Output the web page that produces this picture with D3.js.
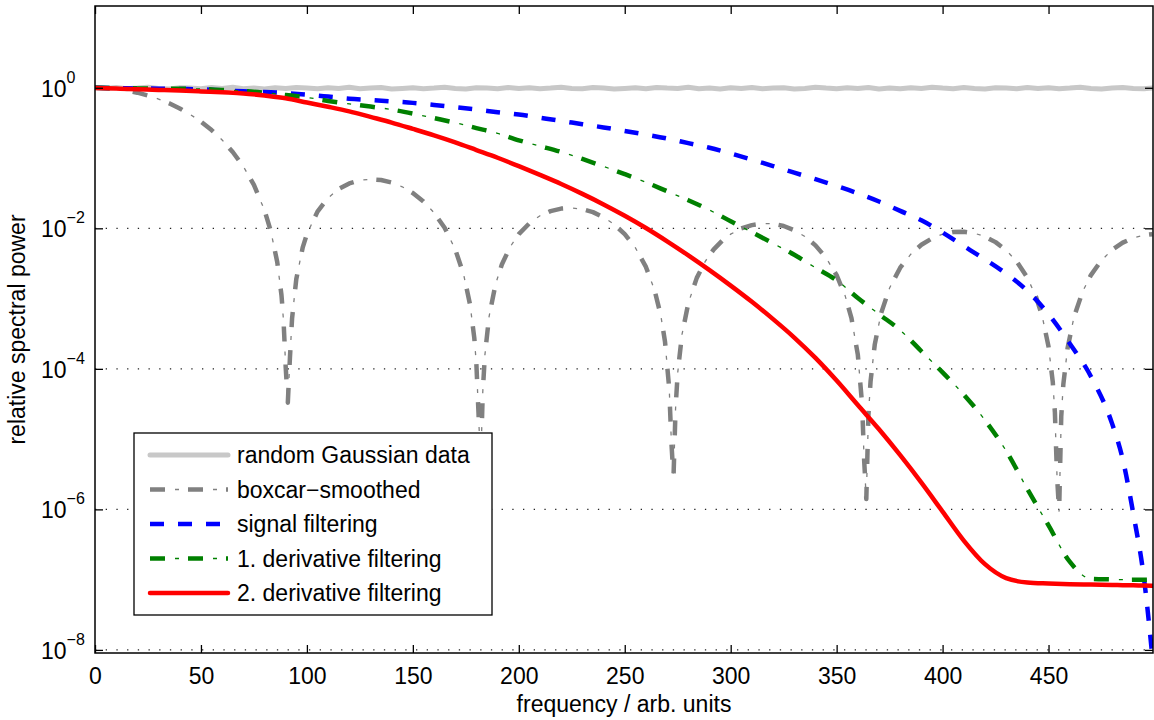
<!DOCTYPE html>
<html>
<head>
<meta charset="utf-8">
<script src="https://cdn.jsdelivr.net/npm/d3@7"></script>
<style>
  html, body { margin: 0; padding: 0; background: #fff; }
  svg text { font-family: "Liberation Sans", Arial, Helvetica, sans-serif; fill: #000; }
</style>
</head>
<body>
<svg id="chart" width="1154" height="720"></svg>
<script>
// Frequency grid shared by the three filter curves
const gridFreq = [0,10,20,30,40,50,60,70,80,90,100,110,120,130,140,150,160,170,180,190,
  200,210,220,230,240,250,260,270,280,290,300,310,320,330,340,350,360,370,380,390,
  400,410,420,430,440,450,460,470,480,485,490,495,499];

const signalPower = [1.00,0.99,0.98,0.97,0.96,0.95,0.92,0.89,0.87,0.84,0.80,0.75,0.70,0.67,0.64,0.61,0.57,0.53,0.49,0.45,
  0.416,0.375,0.338,0.303,0.273,0.243,0.216,0.190,0.163,0.140,0.116,0.095,0.077,0.062,0.050,0.040,0.0315,0.0241,0.0177,0.0130,
  0.0087,0.0056,0.0036,0.00226,0.00129,6.0e-4,2.3e-4,7.8e-5,1.66e-5,5.2e-6,8.7e-7,1.07e-7,8e-9];

const deriv1Power = [1.00,0.99,0.98,0.97,0.97,0.96,0.93,0.90,0.85,0.79,0.73,0.65,0.59,0.54,0.49,0.43,0.37,0.318,0.267,0.225,
  0.179,0.148,0.122,0.097,0.076,0.059,0.0452,0.0337,0.0251,0.0182,0.0126,0.0088,0.0061,0.0042,0.00275,0.00182,1.02e-3,6.0e-4,3.55e-4,1.78e-4,
  8.9e-5,4.3e-5,1.86e-5,6.8e-6,1.95e-6,5.9e-7,1.8e-7,1.03e-7,1.01e-7,1.0e-7,1.0e-7,1.0e-7,1.0e-7];

const deriv2Power = [0.99,0.973,0.955,0.933,0.912,0.887,0.861,0.832,0.776,0.711,0.617,0.537,0.462,0.385,0.320,0.260,0.210,0.167,0.130,0.101,
  0.0767,0.0575,0.0427,0.0309,0.0219,0.0151,0.0101,0.00653,0.00412,0.00254,0.00153,9.0e-4,5.1e-4,2.79e-4,1.43e-4,6.8e-5,3.05e-5,1.38e-5,5.9e-6,2.4e-6,
  9.3e-7,3.6e-7,1.66e-7,1.05e-7,9.1e-8,8.8e-8,8.6e-8,8.5e-8,8.4e-8,8.35e-8,8.3e-8,8.25e-8,8.2e-8];

// Boxcar-smoothed spectrum, denser sampling around the nulls
const boxcarFreq = [0,5,10,15,20,25,30,35,40,45,50,55,60,65,70,75,80,83,86,88,89,90,91,92,93,95,98,
  100,105,110,115,120,125,130,135,140,145,150,155,160,165,170,174,177,179,180,181,182,183,184,186,189,192,196,
  200,205,210,215,220,225,230,235,240,245,250,255,260,264,267,269,271,272,273,274,275,277,280,284,288,292,296,
  300,305,310,315,320,325,330,335,340,345,350,354,357,360,362,363,364,365,366,368,371,375,380,385,390,395,
  400,405,410,415,420,425,430,435,440,444,447,450,452,453,454,455,456,457,459,462,466,470,475,480,485,490,495,499];
const boxcarPower = [1,0.990,0.961,0.915,0.852,0.776,0.691,0.601,0.508,0.416,0.330,0.250,0.181,0.122,0.0760,0.0414,0.0181,0.00906,0.00331,0.00112,4.7e-4,1.05e-4,3.3e-5,1.45e-4,5.2e-4,1.90e-3,5.30e-3,
  8.26e-3,0.0173,0.0271,0.0362,0.0435,0.0482,0.0499,0.0487,0.0449,0.0390,0.0318,0.0241,0.0167,0.0102,5.03e-3,2.18e-3,8.2e-4,2.75e-4,1.14e-4,2.3e-5,4e-6,4.7e-5,1.57e-4,5.6e-4,1.59e-3,3.05e-3,5.49e-3,
  8.26e-3,0.0118,0.0151,0.0176,0.0191,0.0195,0.0187,0.0170,0.0144,0.0114,8.26e-3,5.30e-3,2.82e-3,1.34e-3,5.8e-4,2.44e-4,5.2e-5,9.2e-6,2.8e-6,2.8e-5,8.8e-5,3.06e-4,8.6e-4,1.97e-3,3.39e-3,5.01e-3,6.68e-3,
  8.26e-3,9.96e-3,0.0111,0.0117,0.0116,0.0108,9.4e-3,7.65e-3,5.72e-3,3.81e-3,2.15e-3,1.10e-3,5.26e-4,1.59e-4,3.2e-5,4.9e-6,1.4e-6,2.2e-5,6.6e-5,2.23e-4,6.2e-4,1.42e-3,2.75e-3,4.28e-3,5.83e-3,7.21e-3,
  8.26e-3,8.87e-3,8.95e-3,8.52e-3,7.62e-3,6.36e-3,4.88e-3,3.37e-3,1.99e-3,1.08e-3,5.65e-4,2.07e-4,6.5e-5,2.4e-5,3.0e-6,9.3e-7,2.1e-5,6.1e-5,1.98e-4,5.44e-4,1.24e-3,2.16e-3,3.51e-3,4.93e-3,6.25e-3,7.32e-3,8.02e-3,8.26e-3];

// Raw Gaussian noise spectrum, every 5 units
const noiseFreq = d3.range(0, 500, 5).concat([499]);
const noisePower = [1.00,0.98,1.01,0.97,0.99,1.02,0.98,0.96,1.00,0.99,
  0.97,1.01,0.98,1.02,0.97,0.99,0.96,1.00,0.98,1.01,
  0.99,0.97,1.00,0.98,1.02,0.97,0.99,1.01,0.96,0.98,
  1.00,0.97,0.99,1.02,0.98,0.96,1.00,0.99,0.97,1.01,
  0.98,1.00,0.97,0.99,1.02,0.98,0.97,1.01,0.99,0.96,
  0.98,1.00,0.97,1.01,0.99,0.98,1.02,0.97,0.99,0.96,
  1.00,0.98,1.01,0.97,0.99,1.00,0.96,0.98,1.02,0.99,
  0.97,1.00,0.98,1.01,0.96,0.99,0.97,1.00,0.98,1.02,
  0.99,0.97,1.01,0.98,0.96,1.00,0.99,0.97,1.01,0.98,
  1.00,0.97,0.99,1.02,0.98,0.96,0.99,1.01,0.98,0.97,0.99];

const xTicks = [0,50,100,150,200,250,300,350,400,450];
const yTickExponents = [0,-2,-4,-6,-8];

const legendLabels = ["random Gaussian data","boxcar\u2212smoothed","signal filtering","1. derivative filtering","2. derivative filtering"];

// ---- layout ----
const svg = d3.select("#chart");
const plot = { left: 95, right: 1153, top: 6, bottom: 653 };
const FONT = 23;

const x = d3.scaleLinear().domain([0, 499.3]).range([plot.left, plot.right]);
const y = d3.scaleLog().domain([Math.pow(10, -8.044), Math.pow(10, 1.164)]).range([plot.bottom, plot.top]);

svg.append("rect").attr("width", 1154).attr("height", 720).attr("fill", "#fff");

svg.append("clipPath").attr("id", "plotclip")
  .append("rect")
  .attr("x", plot.left).attr("y", plot.top)
  .attr("width", plot.right - plot.left).attr("height", plot.bottom - plot.top);

// dotted horizontal grid at labelled decades
svg.append("g").selectAll("line").data(yTickExponents).join("line")
  .attr("x1", plot.left).attr("x2", plot.right)
  .attr("y1", d => y(Math.pow(10, d))).attr("y2", d => y(Math.pow(10, d)))
  .attr("stroke", "#222").attr("stroke-width", 1.2)
  .attr("stroke-dasharray", "1.3,9.4");

// series styles
const series = [
  { xs: noiseFreq,  ys: noisePower,  color: "#c8c8c8", width: 5,   style: "solid",   curve: d3.curveLinear },
  { xs: boxcarFreq, ys: boxcarPower, color: "#808080", width: 4.5, style: "dashdot", curve: d3.curveLinear },
  { xs: gridFreq,   ys: signalPower, color: "#0000ff", width: 4.5, style: "dash",    curve: d3.curveMonotoneX },
  { xs: gridFreq,   ys: deriv1Power, color: "#008000", width: 4.5, style: "dashdot", curve: d3.curveMonotoneX },
  { xs: gridFreq,   ys: deriv2Power, color: "#ff0000", width: 4.5, style: "solid",   curve: d3.curveMonotoneX }
];

function drawStyled(g, pathD, s) {
  if (s.style === "solid") {
    g.append("path").attr("d", pathD).attr("fill", "none")
      .attr("stroke", s.color).attr("stroke-width", s.width)
      .attr("stroke-linejoin", "round").attr("stroke-linecap", "round");
  } else if (s.style === "dash") {
    g.append("path").attr("d", pathD).attr("fill", "none")
      .attr("stroke", s.color).attr("stroke-width", s.width)
      .attr("stroke-dasharray", "14,14").attr("stroke-linejoin", "round");
  } else {
    // thick dashes with thin dots between them
    g.append("path").attr("d", pathD).attr("fill", "none")
      .attr("stroke", s.color).attr("stroke-width", s.width)
      .attr("stroke-dasharray", "15,23").attr("stroke-linejoin", "round");
    g.append("path").attr("d", pathD).attr("fill", "none")
      .attr("stroke", s.color).attr("stroke-width", 1.3)
      .attr("stroke-dasharray", "4,34").attr("stroke-dashoffset", 13);
  }
}

const curves = svg.append("g").attr("clip-path", "url(#plotclip)");
series.forEach(s => {
  const pts = s.xs.map((f, i) => [f, s.ys[i]]);
  const line = d3.line().x(d => x(d[0])).y(d => y(d[1])).curve(s.curve);
  drawStyled(curves.append("g"), line(pts), s);
});

// ---- axes ----
const axisG = svg.append("g").attr("font-size", FONT);

const bottomAxis = d3.axisBottom(x).tickValues(xTicks).tickSizeInner(-8).tickSizeOuter(0).tickPadding(15);
const gb = axisG.append("g").attr("transform", `translate(0,${plot.bottom})`).call(bottomAxis);
const topAxis = d3.axisTop(x).tickValues(xTicks).tickSizeInner(-8).tickSizeOuter(0).tickFormat("");
const gt = axisG.append("g").attr("transform", `translate(0,${plot.top})`).call(topAxis);
const yTickVals = yTickExponents.map(e => Math.pow(10, e));
const leftAxis = d3.axisLeft(y).tickValues(yTickVals).tickSizeInner(-8).tickSizeOuter(0).tickFormat("");
const gl = axisG.append("g").attr("transform", `translate(${plot.left},0)`).call(leftAxis);
const rightAxis = d3.axisRight(y).tickValues(yTickVals).tickSizeInner(-8).tickSizeOuter(0).tickFormat("");
const gr = axisG.append("g").attr("transform", `translate(${plot.right},0)`).call(rightAxis);

[gb, gt, gl, gr].forEach(g => {
  g.select(".domain").remove();
  g.selectAll(".tick line").attr("stroke", "#000").attr("stroke-width", 1.3);
  g.selectAll("text").attr("font-family", '"Liberation Sans", Arial, sans-serif').attr("font-size", FONT).attr("fill", "#000");
});

// frame
svg.append("rect")
  .attr("x", plot.left).attr("y", plot.top)
  .attr("width", plot.right - plot.left).attr("height", plot.bottom - plot.top)
  .attr("fill", "none").attr("stroke", "#000").attr("stroke-width", 1.5);

// y tick labels: 10 with superscript exponent
const yLab = svg.append("g").selectAll("text").data(yTickExponents).join("text")
  .attr("x", 41).attr("y", d => y(Math.pow(10, d)) + 9)
  .attr("font-size", FONT);
yLab.append("tspan").text("10");
yLab.append("tspan").attr("dy", -14).attr("font-size", 16)
  .text(d => d < 0 ? "\u2212" + Math.abs(d) : String(d));

// axis titles
svg.append("text")
  .attr("x", (plot.left + plot.right) / 2).attr("y", 712)
  .attr("text-anchor", "middle").attr("font-size", FONT)
  .text("frequency / arb. units");
svg.append("text")
  .attr("transform", `translate(25,${(plot.top + plot.bottom) / 2}) rotate(-90)`)
  .attr("text-anchor", "middle").attr("font-size", FONT)
  .text("relative spectral power");

// ---- legend ----
const leg = svg.append("g");
leg.append("rect").attr("x", 134).attr("y", 433).attr("width", 358).attr("height", 182)
  .attr("fill", "#fff").attr("stroke", "#000").attr("stroke-width", 1.3);
const rowY = d3.scalePoint().domain(legendLabels).range([455, 593]);
legendLabels.forEach((lab, i) => {
  const yy = rowY(lab);
  drawStyled(leg.append("g"), `M150,${yy}L228,${yy}`, series[i]);
  leg.append("text").attr("x", 237).attr("y", yy).attr("dy", "0.35em")
    .attr("font-size", FONT).text(lab);
});
</script>
</body>
</html>
